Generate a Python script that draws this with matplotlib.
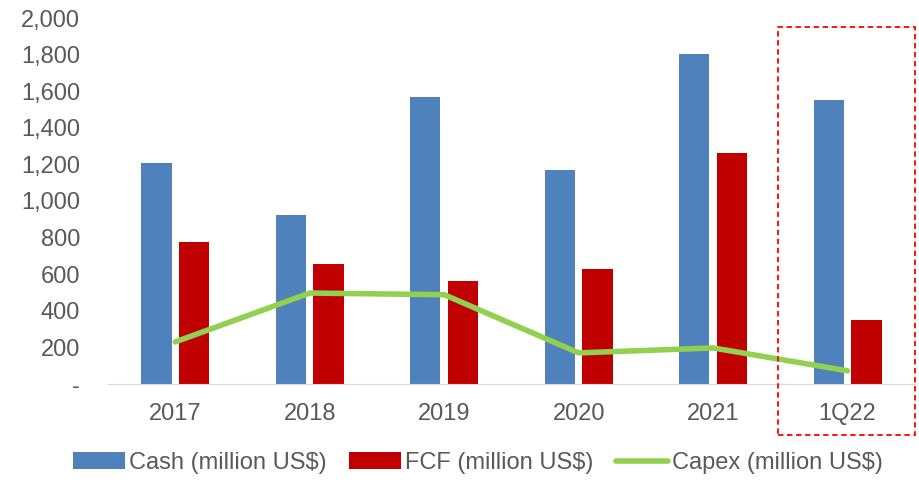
import numpy as np
import matplotlib.pyplot as plt
from matplotlib.patches import Rectangle
from matplotlib.ticker import FuncFormatter

plt.rcParams['font.family'] = ['Liberation Sans', 'DejaVu Sans']

# data
periods = ['2017', '2018', '2019', '2020', '2021', '1Q22']
cash = [1205, 925, 1570, 1170, 1805, 1552]
fcf = [778, 658, 563, 628, 1265, 350]
capex = [230, 497, 488, 170, 197, 72]

x = np.arange(len(periods))
w = 0.225

fig = plt.figure(figsize=(9.19, 4.8), dpi=100)
ax = fig.add_axes([0.1175, 0.2, 0.878, 0.7625])

b1 = ax.bar(x - 0.14, cash, w, color='#4F81BD', label='Cash (million US$)', zorder=2)
b2 = ax.bar(x + 0.14, fcf, w, color='#C00000', label='FCF (million US$)', zorder=2)
l1, = ax.plot(x, capex, color='#92D050', lw=4, solid_capstyle='round',
              label='Capex (million US$)', zorder=3)

ax.set_xlim(-0.5, len(periods) - 0.5)
ax.set_ylim(0, 2000)
ax.set_yticks(np.arange(0, 2001, 200))
ax.yaxis.set_major_formatter(FuncFormatter(lambda v, p: '-' if v == 0 else f'{v:,.0f}'))
ax.set_xticks(x)
ax.set_xticklabels(periods)
ax.tick_params(axis='both', length=0, labelsize=17, colors='#595959')
ax.tick_params(axis='x', pad=14)
ax.tick_params(axis='y', pad=20)

for s in ['top', 'right', 'left']:
    ax.spines[s].set_visible(False)
ax.spines['bottom'].set_color('#D9D9D9')

# highlight box around the latest quarter
fig.patches.append(Rectangle((778 / 919, 1 - 435 / 480), 137 / 919, 408 / 480,
                             transform=fig.transFigure, fill=False,
                             edgecolor='#FF0000', lw=1.3, ls=(0, (3, 2))))

fig.legend([b1, b2, l1], [b1.get_label(), b2.get_label(), l1.get_label()],
           loc='center', bbox_to_anchor=(0.52, 1 - 463 / 480), ncol=3,
           frameon=False, fontsize=17, handlelength=2.2, handletextpad=0.17,
           columnspacing=0.95, labelcolor='#595959')

fig.savefig('out.png', dpi=100)
